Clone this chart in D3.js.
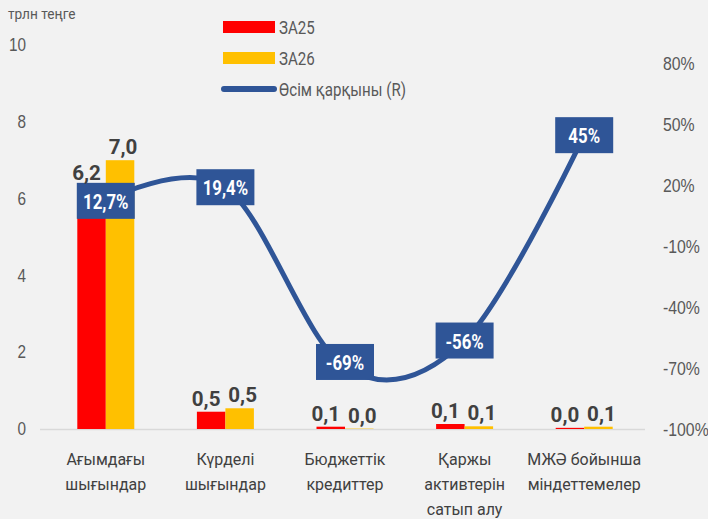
<!DOCTYPE html>
<html>
<head>
<meta charset="utf-8">
<script src="https://cdn.jsdelivr.net/npm/d3@7"></script>
<style>
  body { margin: 0; background: #f2f2f2; }
  svg { font-family: "Roboto", "Liberation Sans", sans-serif; }
</style>
</head>
<body>
<script>
// data
var categories = [
    ["Ағымдағы", "шығындар"],
    ["Күрделі", "шығындар"],
    ["Бюджеттік", "кредиттер"],
    ["Қаржы", "активтерін", "сатып алу"],
    ["МЖӘ бойынша", "міндеттемелер"]
]
var za25 = [6.2, 0.45, 0.06, 0.13, 0.03]
var za26 = [7.0, 0.54, 0.01, 0.07, 0.06]
var growth = [12.7, 19.4, -69, -56, 45]
var growthLabels = ["12,7%", "19,4%", "-69%", "-56%", "45%"]
var leftTicks = [0, 2, 4, 6, 8, 10]
var rightTicks = [-100, -70, -40, -10, 20, 50, 80]
var seriesNames = ["ЗА25", "ЗА26", "Өсім қарқыны (R)"]

var width = 708, height = 519
var red = "#ff0000", yellow = "#ffc000", blue = "#2f5597"
var textColor = "#595959", labelColor = "#404040"

var svg = d3.select("body").append("svg")
    .attr("width", width)
    .attr("height", height)

svg.append("rect")
    .attr("width", width)
    .attr("height", height)
    .attr("fill", "#f2f2f2")

// condensed text: squeeze glyphs horizontally
function label(px, py, str, size, sx, anchor, color, bold) {
    var g = svg.append("g")
        .attr("transform", "translate(" + px + "," + py + ") scale(" + sx + ",1)")
    return g.append("text")
        .attr("text-anchor", anchor)
        .attr("fill", color)
        .style("font-size", size + "px")
        .style("font-weight", bold ? "bold" : "normal")
        .text(str)
}

var x = d3.scaleBand()
    .domain(d3.range(categories.length))
    .range([46, 644])

var inner = d3.scaleBand()
    .domain([0, 1])
    .range([x.bandwidth() / 2 - 28.5, x.bandwidth() / 2 + 28.5])

var y = d3.scaleLinear()
    .domain([0, 10])
    .range([429, 45])

var yR = d3.scaleLinear()
    .domain([-100, 80])
    .range([430, 64])

// left axis
var leftAxis = svg.append("g")
    .attr("transform", "translate(26,0)")
    .call(d3.axisLeft(y).tickValues(leftTicks).tickSize(0).tickPadding(0))
leftAxis.select(".domain").remove()
leftAxis.selectAll("text")
    .attr("fill", textColor)
    .attr("transform", "scale(0.85,1)")
    .style("font-size", "18px")

// right axis
var rightAxis = svg.append("g")
    .attr("transform", "translate(663,0)")
    .call(d3.axisRight(yR).tickValues(rightTicks).tickSize(0).tickPadding(0)
        .tickFormat(function(d) { return d + "%" }))
rightAxis.select(".domain").remove()
rightAxis.selectAll("text")
    .attr("fill", textColor)
    .attr("transform", "scale(0.88,1)")
    .style("font-size", "18px")

// baseline
svg.append("line")
    .attr("x1", 40)
    .attr("x2", 645)
    .attr("y1", y(0) + 0.5)
    .attr("y2", y(0) + 0.5)
    .attr("stroke", "#d9d9d9")
    .attr("stroke-width", 1.5)

// unit title
label(8, 19, "трлн теңге", 15.5, 0.88, "start", textColor, false)

// bars
var series = [za25, za26]
var colors = [red, yellow]
for (var s = 0; s < 2; s++) {
    for (var i = 0; i < categories.length; i++) {
        svg.append("rect")
            .attr("x", x(i) + inner(s))
            .attr("y", y(series[s][i]))
            .attr("width", inner.bandwidth())
            .attr("height", y(0) - y(series[s][i]))
            .attr("fill", colors[s])
    }
}

// growth line
var line = d3.line()
    .x(function(d, i) { return x(i) + x.bandwidth() / 2 })
    .y(function(d) { return yR(d) })
    .curve(d3.curveCardinal.tension(0))

svg.append("path")
    .datum(growth)
    .attr("d", line)
    .attr("fill", "none")
    .attr("stroke", blue)
    .attr("stroke-width", 5)
    .attr("stroke-linecap", "round")

// growth labels
var boxTops = []
for (var i = 0; i < growth.length; i++) {
    var cx = x(i) + x.bandwidth() / 2
    var cy = yR(growth[i])
    if (i == 2) cy = cy - 5
    boxTops.push(cy - 18)
    svg.append("rect")
        .attr("x", cx - 29)
        .attr("y", cy - 18)
        .attr("width", 58)
        .attr("height", 36)
        .attr("fill", blue)
    label(cx, cy + 8, growthLabels[i], 21, 0.8, "middle", "#ffffff", true)
}

// bar value labels
var shift = [-5, 3]
for (var s = 0; s < 2; s++) {
    for (var i = 0; i < categories.length; i++) {
        var bx = x(i) + inner(s) + inner.bandwidth() / 2 + shift[s]
        var by = y(series[s][i]) - 6
        // keep clear of the growth label box
        if (by > boxTops[i] - 3 && by - 20 < boxTops[i] + 36) by = boxTops[i] - 3
        label(bx, by, series[s][i].toFixed(1).replace(".", ","), 21, 0.98, "middle", labelColor, true)
    }
}

// x labels
for (var i = 0; i < categories.length; i++) {
    categories[i].forEach(function(w, k) {
        label(x(i) + x.bandwidth() / 2, 465 + k * 25, w, 17, 0.94, "middle", labelColor, false)
    })
}

// legend
svg.append("rect").attr("x", 223).attr("y", 21).attr("width", 52).attr("height", 12).attr("fill", red)
svg.append("rect").attr("x", 223).attr("y", 52).attr("width", 52).attr("height", 12).attr("fill", yellow)
svg.append("line")
    .attr("x1", 224).attr("x2", 274).attr("y1", 89).attr("y2", 89)
    .attr("stroke", blue).attr("stroke-width", 6).attr("stroke-linecap", "round")
var legendY = [27, 58, 89]
for (var k = 0; k < 3; k++) {
    label(279, legendY[k] + 7, seriesNames[k], 18, 0.84, "start", textColor, false)
}
</script>
</body>
</html>
